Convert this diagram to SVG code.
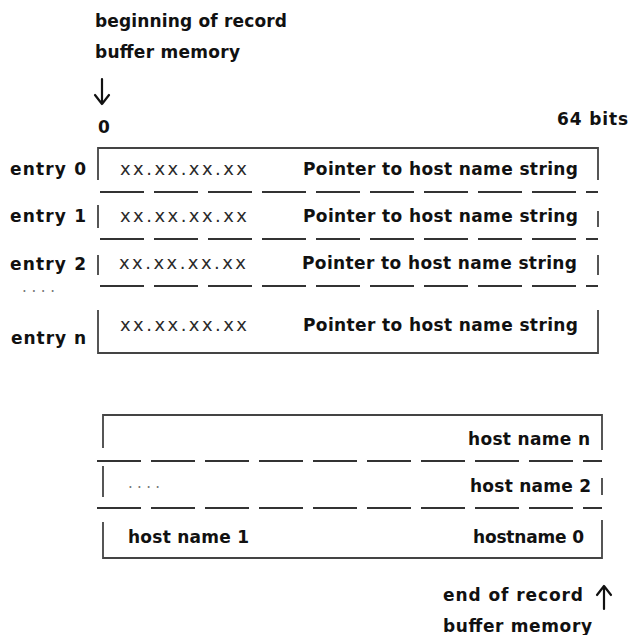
<svg xmlns="http://www.w3.org/2000/svg" width="632" height="635" viewBox="0 0 632 635">
<style>
text{font-family:"DejaVu Sans","Liberation Sans",sans-serif;font-weight:bold;font-size:17px;fill:#111}
.xx{font-weight:normal;fill:#2a2a2a;font-size:18px}
.dots{font-weight:normal;fill:#777;font-size:15px}
.ln{stroke:#444;stroke-width:1.8;fill:none}
.dash{stroke:#333;stroke-width:1.8;fill:none;stroke-dasharray:44 10}
.arr{stroke:#111;stroke-width:2.2;fill:none;stroke-linecap:round;stroke-linejoin:round}
</style>
<rect width="632" height="635" fill="#fff"/>
<g id="header">
<text x="95" y="27" textLength="192">beginning of record</text>
<text x="95" y="58" textLength="145">buffer memory</text>
<text x="98" y="133">0</text>
<text x="557" y="125" textLength="71">64 bits</text>
</g>
<g id="footer">
<text x="443" y="601" textLength="140">end of record</text>
<text x="443" y="632" textLength="149">buffer memory</text>
</g>
<g id="connectors">
<path class="arr" d="M102 79 V104 M95 95 L102 104 L109 95"/>
<path class="arr" d="M604 609 V586 M597 595 L604 586 L611 595"/>
</g>
<g id="entry-table">
<path class="ln" d="M98 180 V148 H598 V180"/>
<path class="dash" d="M100 192 H598"/>
<path class="ln" d="M98 205 V228 M598 211 V227"/>
<path class="dash" d="M100 239 H598"/>
<path class="ln" d="M98 255 V275 M598 255 V275"/>
<path class="dash" d="M100 286 H598"/>
<path class="ln" d="M98 310 V353 H598 V310"/>
</g>
<g id="entry0">
<text x="10" y="175" textLength="76">entry 0</text>
<text class="xx" x="120" y="175" textLength="127">xx.xx.xx.xx</text>
<text x="303" y="175" textLength="275">Pointer to host name string</text>
</g>
<g id="entry1">
<text x="10" y="222" textLength="76">entry 1</text>
<text class="xx" x="120" y="222" textLength="127">xx.xx.xx.xx</text>
<text x="303" y="222" textLength="275">Pointer to host name string</text>
</g>
<g id="entry2">
<text x="10" y="270" textLength="76">entry 2</text>
<text class="xx" x="119" y="269" textLength="127">xx.xx.xx.xx</text>
<text x="302" y="269" textLength="275">Pointer to host name string</text>
</g>
<g id="entry-dots">
<text class="dots" x="22" y="292" textLength="33">....</text>
</g>
<g id="entryn">
<text x="11" y="344" textLength="75">entry n</text>
<text class="xx" x="120" y="331" textLength="127">xx.xx.xx.xx</text>
<text x="303" y="331" textLength="275">Pointer to host name string</text>
</g>
<g id="hostname-table">
<path class="ln" d="M103 448 V415 H602 V450"/>
<path class="dash" d="M97 461 H602"/>
<path class="ln" d="M103 466 V497 M602 478 V495"/>
<path class="dash" d="M97 508 H602"/>
<path class="ln" d="M103 522 V558 H602 V520"/>
</g>
<g id="hostn">
<text x="468" y="445" textLength="122">host name n</text>
</g>
<g id="host2">
<text class="dots" x="128" y="488" textLength="32">....</text>
<text x="470" y="492" textLength="121">host name 2</text>
</g>
<g id="host1">
<text x="128" y="543" textLength="121">host name 1</text>
</g>
<g id="host0">
<text x="473" y="543" textLength="111">hostname 0</text>
</g>
</svg>
